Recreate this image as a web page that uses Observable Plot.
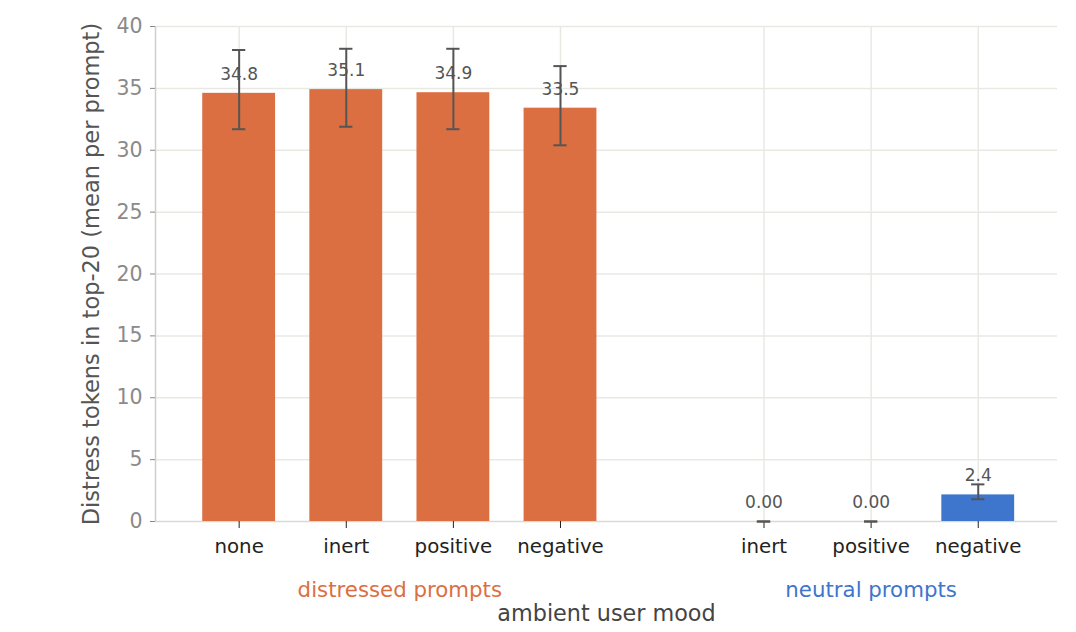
<!DOCTYPE html>
<html><head><meta charset="utf-8">
<script src="https://cdn.jsdelivr.net/npm/d3@7"></script>
<script src="https://cdn.jsdelivr.net/npm/@observablehq/plot@0.6"></script>
<style>
body{margin:0;background:#fff;}
#chart{width:1076px;height:632px;}
</style></head><body><div id="chart"></div>
<script>
// ---- data ----
const moods = ["none", "inert", "positive", "negative", "inert", "positive", "negative"];
const groups = ["distressed", "distressed", "distressed", "distressed", "neutral", "neutral", "neutral"];
const slots = [0, 1, 2, 3, 4.9, 5.9, 6.9];
const means = [34.6, 34.9, 34.65, 33.4, 0, 0, 2.15];
const errLow = [31.7, 31.9, 31.7, 30.4, 0, 0, 1.8];
const errHigh = [38.1, 38.2, 38.2, 36.8, 0, 0, 3.0];
const valueLabels = ["34.8", "35.1", "34.9", "33.5", "0.00", "0.00", "2.4"];
const groupKeys = ["distressed", "neutral"];
const groupNames = ["distressed prompts", "neutral prompts"];
const groupCenters = [1.5, 5.9];
const groupColors = ["#db6f42", "#3e75cd"];
const yTicks = [0, 5, 10, 15, 20, 25, 30, 35, 40];
const yLabel = "Distress tokens in top-20 (mean per prompt)";
const xLabel = "ambient user mood";

const rows = moods.map((m, i) => ({
  mood: m, group: groups[i], slot: slots[i], mean: means[i],
  lo: errLow[i], hi: errHigh[i], label: valueLabels[i]
}));
const groupRows = groupNames.map((n, i) => ({name: n, key: groupKeys[i], c: groupCenters[i]}));

const halfBar = 0.34, halfCap = 0.062;
const xDomain = [-0.781, 7.64];
const grid = "#e9e9e4";

const plot = Plot.plot({
  width: 1076, height: 632,
  marginLeft: 155, marginRight: 19, marginTop: 26, marginBottom: 111,
  style: {fontFamily: "DejaVu Sans", background: "#fff", overflow: "visible"},
  x: {type: "linear", domain: xDomain, axis: null},
  y: {domain: [0, 40], axis: null},
  color: {domain: groupKeys, range: groupColors},
  marks: [
    Plot.ruleY(yTicks.filter(t => t > 0), {stroke: grid, strokeWidth: 1.5}),
    Plot.ruleX(rows, {x: "slot", y1: 0, y2: 40, stroke: grid, strokeWidth: 1.5}),
    Plot.ruleY([0], {stroke: "#d9d9d4", strokeWidth: 1.5}),
    Plot.ruleX([xDomain[0]], {y1: 0, y2: 40, stroke: "#cfcfca", strokeWidth: 1.5}),
    Plot.axisY({ticks: yTicks, tickSize: 5, tickPadding: 8, fontSize: 20.5, color: "#8a8a8a", label: null}),
    Plot.axisX({ticks: slots, tickFormat: d => moods[slots.indexOf(d)], tickSize: 7, tickPadding: 10, fontSize: 19.8, color: "#222", label: null}),
    Plot.rectY(rows, {x1: d => d.slot - halfBar, x2: d => d.slot + halfBar, y1: 0, y2: "mean", fill: "group"}),
    Plot.text(rows, {x: "slot", y: "mean", text: "label", dy: -19, fontSize: 17, fill: "#555"}),
    Plot.ruleX(rows, {x: "slot", y1: "lo", y2: "hi", stroke: "#555", strokeWidth: 2}),
    Plot.ruleY(rows, {y: "lo", x1: d => d.slot - halfCap, x2: d => d.slot + halfCap, stroke: "#555", strokeWidth: 2}),
    Plot.ruleY(rows, {y: "hi", x1: d => d.slot - halfCap, x2: d => d.slot + halfCap, stroke: "#555", strokeWidth: 2}),
    Plot.text(groupRows, {x: "c", y: 0, text: "name", dy: 69, fontSize: 21.3, fill: d => d.key}),
    Plot.text([xLabel], {frameAnchor: "bottom", dy: 99, fontSize: 22.3, fill: "#444"}),
    Plot.text([yLabel], {frameAnchor: "left", textAnchor: "middle", rotate: -90, dx: -64, fontSize: 22.5, fill: "#555"})
  ]
});
document.getElementById("chart").appendChild(plot);
</script></body></html>
